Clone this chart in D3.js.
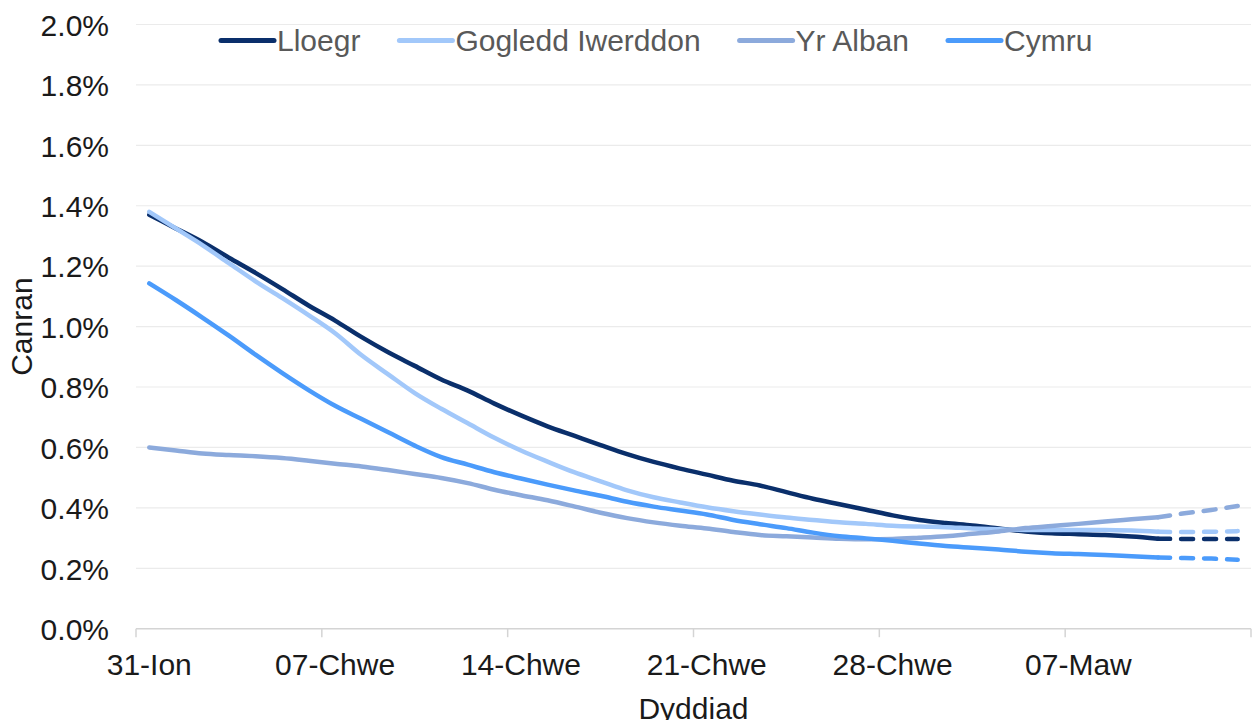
<!DOCTYPE html>
<html><head><meta charset="utf-8">
<script src="https://cdn.jsdelivr.net/npm/d3@7"></script>
<style>
html,body{margin:0;padding:0;background:#fff;}
svg{display:block;font-family:"Liberation Sans",Arial,sans-serif;}
</style></head>
<body><svg id="c" width="1252" height="720"></svg>
<script>
const categories = ["31-Ion","01-Chwe","02-Chwe","03-Chwe","04-Chwe","05-Chwe","06-Chwe","07-Chwe","08-Chwe","09-Chwe","10-Chwe","11-Chwe","12-Chwe","13-Chwe","14-Chwe","15-Chwe","16-Chwe","17-Chwe","18-Chwe","19-Chwe","20-Chwe","21-Chwe","22-Chwe","23-Chwe","24-Chwe","25-Chwe","26-Chwe","27-Chwe","28-Chwe","01-Maw","02-Maw","03-Maw","04-Maw","05-Maw","06-Maw","07-Maw","08-Maw","09-Maw","10-Maw","11-Maw","12-Maw","13-Maw"];
const tickLabels = ["31-Ion","07-Chwe","14-Chwe","21-Chwe","28-Chwe","07-Maw"];
const yTicks = [0,0.2,0.4,0.6,0.8,1.0,1.2,1.4,1.6,1.8,2.0];
const seriesNames = ["Lloegr","Gogledd Iwerddon","Yr Alban","Cymru"];
const seriesColors = ["#0a2f6b","#a2c8fa","#8caadc","#4b9bfb"];
const projectionStart = "10-Maw";
const lloegr = [1.37,1.325,1.28,1.228,1.178,1.125,1.07,1.02,0.965,0.915,0.87,0.825,0.788,0.745,0.706,0.67,0.639,0.608,0.578,0.552,0.53,0.51,0.49,0.474,0.452,0.43,0.412,0.394,0.375,0.36,0.35,0.342,0.332,0.322,0.316,0.313,0.31,0.305,0.298,0.297,0.297,0.297];
const gogleddIwerddon = [1.38,1.325,1.27,1.21,1.15,1.095,1.038,0.978,0.905,0.842,0.78,0.728,0.68,0.632,0.59,0.553,0.518,0.488,0.458,0.435,0.418,0.402,0.389,0.378,0.368,0.36,0.352,0.347,0.341,0.338,0.336,0.332,0.329,0.327,0.327,0.327,0.327,0.325,0.321,0.32,0.321,0.323];
const yrAlban = [0.6,0.59,0.58,0.575,0.571,0.565,0.556,0.546,0.537,0.525,0.512,0.499,0.482,0.46,0.442,0.425,0.405,0.384,0.366,0.352,0.341,0.332,0.32,0.31,0.306,0.302,0.298,0.296,0.297,0.301,0.306,0.314,0.322,0.333,0.34,0.347,0.355,0.362,0.369,0.382,0.393,0.406];
const cymru = [1.143,1.088,1.03,0.97,0.907,0.847,0.79,0.738,0.694,0.65,0.606,0.568,0.543,0.518,0.497,0.477,0.458,0.44,0.42,0.404,0.391,0.378,0.36,0.346,0.333,0.318,0.306,0.299,0.291,0.282,0.274,0.268,0.262,0.255,0.25,0.247,0.244,0.24,0.236,0.234,0.232,0.228];
const seriesValues = [lloegr, gogleddIwerddon, yrAlban, cymru];

(function () {
const svg = d3.select("#c");
const pl = 136, pr = 1251, pt = 24.5, pb = 628.7;
const x = d3.scaleBand().domain(categories).range([pl, pr]).padding(0);
const y = d3.scaleLinear().domain([0, 2.0]).range([pb, pt]);
const cx = c => x(c) + x.bandwidth() / 2;

// gridlines
svg.append("g").selectAll("line").data(yTicks.filter(t => t > 0)).join("line")
  .attr("x1", pl).attr("x2", pr).attr("y1", d => y(d)).attr("y2", d => y(d))
  .attr("stroke", "#ebebeb").attr("stroke-width", 1.2);

// y axis labels
const yAxis = d3.axisLeft(y).tickValues(yTicks).tickSize(0).tickPadding(0)
  .tickFormat(d => d3.format(".1f")(d) + "%");
const yg = svg.append("g").attr("transform", "translate(109,0)").call(yAxis);
yg.select(".domain").remove();
yg.selectAll("text").attr("font-size", 30).attr("fill", "#1a1a1a")
  .attr("font-family", "Liberation Sans, Arial, sans-serif").attr("dy", "0.36em").attr("x", 0);

// x axis line + ticks
svg.append("line").attr("x1", pl).attr("x2", pr).attr("y1", pb).attr("y2", pb)
  .attr("stroke", "#d4d4d4").attr("stroke-width", 1.5);
const tickCats = categories.filter((c, i) => i % 7 === 0);
const tickPos = tickCats.map(c => x(c)).concat([pr]);
svg.append("g").selectAll("line").data(tickPos).join("line")
  .attr("x1", d => d).attr("x2", d => d).attr("y1", pb).attr("y2", pb + 8.5)
  .attr("stroke", "#d4d4d4").attr("stroke-width", 1.5);
svg.append("g").selectAll("text").data(tickLabels).join("text")
  .attr("x", (d, i) => cx(tickCats[i])).attr("y", 675)
  .attr("text-anchor", "middle").attr("font-size", 30).attr("fill", "#1a1a1a").text(d => d);

// axis titles
svg.append("text").attr("x", (pl + pr) / 2).attr("y", 719).attr("text-anchor", "middle")
  .attr("font-size", 30).attr("fill", "#1a1a1a").text("Dyddiad");
svg.append("text").attr("transform", `translate(32,${(pt + pb) / 2}) rotate(-90)`)
  .attr("text-anchor", "middle").attr("font-size", 30).attr("fill", "#1a1a1a").text("Canran");

// lines
const pIdx = categories.indexOf(projectionStart);
const line = d3.line().x(d => cx(d.c)).y(d => y(d.v)).curve(d3.curveMonotoneX);
seriesValues.forEach((vals, s) => {
  const pts = vals.map((v, i) => ({c: categories[i], v}));
  svg.append("path").attr("d", line(pts.slice(0, pIdx + 1))).attr("fill", "none")
    .attr("stroke", seriesColors[s]).attr("stroke-width", 4.5)
    .attr("stroke-linecap", "round").attr("stroke-linejoin", "round");
  svg.append("path").attr("d", line(pts.slice(pIdx))).attr("fill", "none")
    .attr("stroke", seriesColors[s]).attr("stroke-width", 4.5)
    .attr("stroke-dasharray", "12,11").attr("stroke-linecap", "round");
});

// legend
const lg = svg.append("g");
let lx = 221;
seriesNames.forEach((n, s) => {
  lg.append("line").attr("x1", lx).attr("x2", lx + 53).attr("y1", 40.5).attr("y2", 40.5)
    .attr("stroke", seriesColors[s]).attr("stroke-width", 5).attr("stroke-linecap", "round");
  const t = lg.append("text").attr("x", lx + 56).attr("y", 51).attr("font-size", 30)
    .attr("fill", "#595959").text(n);
  lx = lx + 56 + t.node().getComputedTextLength() + 39;
});
})();
</script></body></html>
